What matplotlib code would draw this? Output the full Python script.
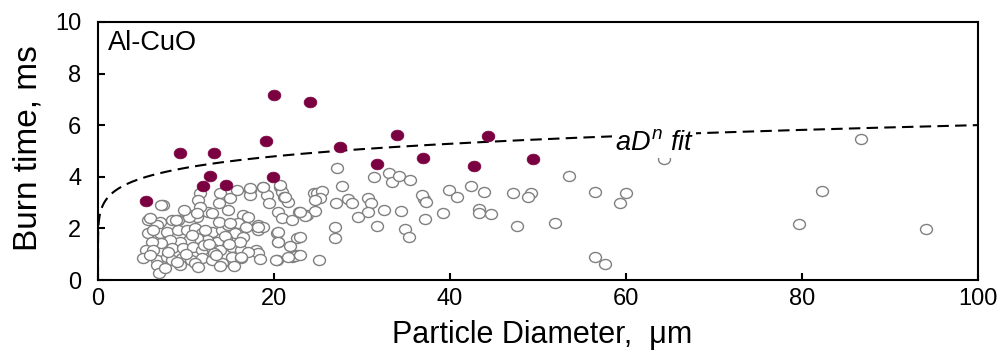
import numpy as np
import matplotlib
matplotlib.use("Agg")
import matplotlib.pyplot as plt
from matplotlib.path import Path
from matplotlib.transforms import Affine2D

plt.rcParams['font.family'] = ['Liberation Sans', 'DejaVu Sans']
plt.rcParams['mathtext.fontset'] = 'custom'
plt.rcParams['mathtext.rm'] = 'Liberation Sans'
plt.rcParams['mathtext.it'] = 'Liberation Sans:italic'

# Individual particle burn times (open symbols)
open_d = [
    7.4, 11.6, 11.4, 13.9, 15.0, 15.8, 17.3, 17.3, 18.8, 19.2, 19.4, 20.7, 20.9, 21.1, 21.6,
    20.5, 20.9, 22.0, 22.8, 23.7, 24.5, 20.3, 20.5, 22.6, 22.0, 20.3, 22.6, 18.2, 18.2, 18.0,
    18.2, 16.5, 17.1, 14.8, 13.7, 12.5, 11.6, 11.2, 10.3, 9.1, 8.4, 7.0, 5.7, 6.7, 5.7,
    7.0, 7.8, 9.1, 10.1, 11.0, 11.8, 12.9, 14.1, 14.8, 15.9, 15.6, 16.5, 14.6, 13.5, 12.4,
    11.2, 10.3, 9.3, 8.2, 7.2, 6.1, 5.5, 6.3, 5.1, 6.7, 6.7, 6.9, 7.8, 8.4, 9.7,
    10.8, 11.8, 12.9, 13.9, 15.2, 16.3, 16.1, 8.4, 9.5, 10.6, 11.8, 12.9, 14.1, 15.2, 16.3,
    5.9, 9.3, 11.0, 18.8, 18.2, 20.4, 20.4, 21.8, 22.4, 21.6, 20.2, 18.4, 17.1, 16.3, 13.9,
    17.3, 18.8, 20.7, 21.3, 12.9, 13.7, 15.0, 7.2, 5.9, 8.9, 10.3, 11.2, 12.0, 13.2, 14.4,
    10.0, 8.0, 6.2, 9.8, 12.2, 14.9, 16.8, 9.0, 11.4, 13.4, 7.6, 10.7, 15.4, 12.6,
    27.2, 31.4, 33.1, 33.4, 34.2, 35.5, 27.7, 24.9, 25.5, 25.2, 24.7, 27.1, 28.4, 28.9, 30.7,
    31.0, 30.7, 32.5, 34.4, 24.7, 23.5, 22.9, 29.5, 26.9, 26.9, 31.7, 34.9, 35.3, 25.1, 22.9,
    22.9, 37.0, 36.8, 37.3, 37.2,
    39.9, 40.8, 42.4, 43.9, 39.2, 43.3, 43.3, 44.7, 47.2, 49.2, 48.9, 47.6, 51.9,
    53.5, 56.5, 60.0, 59.3, 56.5, 57.6, 64.3, 82.3, 86.7, 79.7, 94.1,
]
open_t = [
    2.90, 3.36, 3.10, 3.39, 3.17, 3.49, 3.49, 3.30, 3.62, 3.30, 2.97, 3.62, 3.42, 3.23, 3.03,
    2.65, 2.39, 2.33, 2.65, 2.52, 3.36, 1.83, 1.49, 1.62, 0.90, 0.78, 0.97, 2.13, 1.94, 1.16,
    1.03, 2.52, 2.45, 2.71, 2.97, 2.65, 2.84, 2.45, 2.52, 2.33, 2.33, 2.26, 2.33, 2.13, 1.81,
    1.81, 1.87, 1.94, 1.94, 2.00, 1.81, 1.87, 1.94, 2.13, 2.20, 1.81, 1.68, 1.62, 1.49, 1.55,
    1.62, 1.55, 1.49, 1.55, 1.42, 1.49, 1.16, 1.16, 0.84, 0.78, 0.58, 0.26, 0.90, 1.23, 1.23,
    1.29, 1.16, 1.23, 1.16, 1.29, 1.16, 1.49, 0.78, 0.84, 0.78, 0.84, 0.78, 0.65, 0.90, 0.84,
    0.97, 0.58, 0.65, 2.07, 2.04, 1.85, 1.46, 1.33, 0.94, 0.88, 0.78, 0.81, 1.07, 0.88, 0.56,
    3.55, 3.62, 3.68, 3.23, 2.58, 2.26, 2.20, 2.90, 2.39, 2.33, 2.45, 2.58, 1.35, 1.05, 1.70,
    1.00, 1.10, 1.95, 2.70, 1.95, 1.40, 2.05, 0.70, 0.50, 0.95, 0.45, 1.75, 0.55, 1.40,
    4.35, 4.00, 4.13, 3.81, 4.04, 3.88, 3.64, 3.38, 3.46, 3.17, 3.10, 2.97, 3.13, 3.00, 3.17,
    3.00, 2.65, 2.71, 2.66, 2.67, 2.49, 2.65, 2.45, 2.04, 1.64, 2.10, 1.96, 1.68, 0.78, 1.68,
    0.97, 3.13, 3.30, 3.04, 2.35,
    3.49, 3.20, 3.66, 3.40, 2.58, 2.75, 2.58, 2.54, 3.36, 3.36, 3.20, 2.09, 2.20,
    4.03, 3.40, 3.39, 3.00, 0.88, 0.62, 4.68, 3.46, 5.45, 2.17, 1.96,
]

# Highlighted particles (filled symbols)
filled_d = [5.5, 9.3, 13.2, 12.7, 11.9, 14.6, 19.1, 20.0, 19.9, 24.1, 27.5, 31.7, 34.0,
            36.9, 42.7, 44.3, 49.4]
filled_t = [3.06, 4.92, 4.93, 4.03, 3.64, 3.68, 5.39, 7.18, 4.00, 6.91, 5.16, 4.51, 5.63,
            4.74, 4.42, 5.58, 4.70]

# Power-law fit  t = a * D^n
fit_a = 3.15
fit_n = 0.14

fig = plt.figure(figsize=(10.04, 3.54), dpi=100)
ax = fig.add_axes([0.0976, 0.209, 0.8765, 0.729])

# slightly flattened round marker
ellipse = Path.unit_circle().transformed(Affine2D().scale(1.0, 0.84))

ax.plot(open_d, open_t, linestyle='none', marker=ellipse, markersize=8.6,
        markerfacecolor='white', markeredgecolor='#808080', markeredgewidth=1.0, zorder=3)
ax.plot(filled_d, filled_t, linestyle='none', marker=ellipse, markersize=9.2,
        markerfacecolor='#7B0041', markeredgecolor='#7B0041', markeredgewidth=0.5, zorder=4)

d_fit = np.logspace(-12, 2, 800)
ax.plot(d_fit, fit_a * d_fit ** fit_n, color='black', linestyle=(0, (5.5, 3)),
        linewidth=1.5, zorder=2)

ax.text(58.7, 5.05, r'$aD^{n}\ fit$', fontsize=19.5, ha='left', va='baseline',
        bbox=dict(facecolor='white', edgecolor='none', pad=1.5), zorder=5)
ax.text(1.1, 9.2, 'Al-CuO', fontsize=19.5, ha='left', va='center')

ax.set_xlim(0, 100)
ax.set_ylim(0, 10)
ax.set_xticks([0, 20, 40, 60, 80, 100])
ax.set_yticks([0, 2, 4, 6, 8, 10])
ax.tick_params(direction='in', length=5, width=1.5, labelsize=17,
               top=False, right=False)
ax.tick_params(axis='y', pad=12)
ax.tick_params(axis='x', pad=6)
for sp in ax.spines.values():
    sp.set_linewidth(1.5)

ax.set_xlabel('Particle Diameter,  μm', fontsize=22)
ax.set_ylabel('Burn time, ms', fontsize=24)
ax.xaxis.set_label_coords(0.505, -0.155)
ax.yaxis.set_label_coords(-0.062, 0.51)

fig.savefig('out.png', dpi=100)
